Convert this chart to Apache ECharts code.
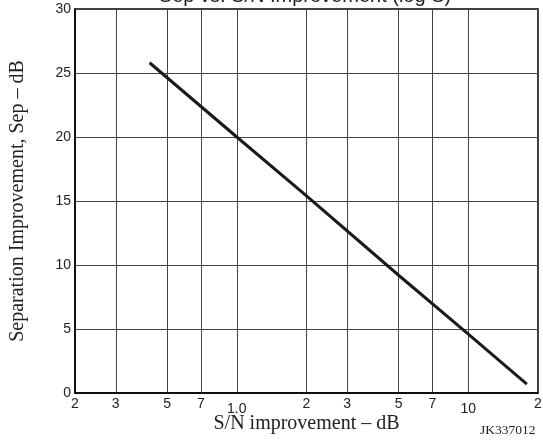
<!DOCTYPE html>
<html>
<head>
<meta charset="utf-8">
<script src="https://cdn.jsdelivr.net/npm/echarts@6/dist/echarts.min.js"></script>
<style>html,body{margin:0;padding:0;background:#fff;}#c{width:543px;height:440px;}</style>
</head>
<body>
<div id="c"></div>
<script>
var titleText = 'Sep vs. S/N Improvement (log S)';
var xTickValues = [0.2, 0.3, 0.5, 0.7, 1, 2, 3, 5, 7, 10, 20];
var xTickLabels = ['2', '3', '5', '7', '1.0', '2', '3', '5', '7', '10', '2'];
var yTicks = [0, 5, 10, 15, 20, 25, 30];
var snImprovement = [0.42, 1.0, 2.0, 5.0, 10.0, 17.9];
var sepImprovement = [25.8, 20.0, 15.4, 9.2, 4.6, 0.7];

var chart = echarts.init(document.getElementById('c'));
var lineData = snImprovement.map(function (v, i) { return [v, sepImprovement[i]]; });
var labelMap = {};
xTickValues.forEach(function (v, i) { labelMap[v] = xTickLabels[i]; });

chart.setOption({
  animation: false,
  title: {
    text: titleText, left: 300, textAlign: 'center', top: -19,
    textStyle: { fontFamily: 'Liberation Sans, Arial', fontSize: 20, fontWeight: 'normal', color: '#222' }
  },
  grid: { left: 75, right: 5, top: 9, bottom: 47, show: true, borderColor: '#000', borderWidth: 1.5, outerBoundsMode: 'none', containLabel: false },
  graphic: [
    { type: 'text', x: 480, y: 423, style: { text: 'JK337012', fontFamily: 'Liberation Serif, Times New Roman', fontSize: 13.5, fill: '#222' } }
  ],
  xAxis: {
    type: 'log', logBase: 10, min: 0.2, max: 20,
    name: 'S/N improvement – dB', nameLocation: 'middle', nameGap: 21, nameMoveOverlap: false,
    nameTextStyle: { fontFamily: 'Liberation Serif, Times New Roman', fontSize: 20, color: '#222', verticalAlign: 'top', padding: [0, 0, 0, 0] },
    axisLine: { show: true, lineStyle: { color: '#000', width: 1.5 } },
    axisTick: { show: false, customValues: xTickValues },
    axisLabel: {
      customValues: xTickValues, margin: 4, color: '#222', fontFamily: 'Liberation Sans, Arial', fontSize: 14,
      formatter: function (v) {
        var key = Math.round(v * 1000) / 1000;
        var t = labelMap[key] !== undefined ? labelMap[key] : '';
        if (t === '1.0' || t === '10') return '{lo|' + t + '}';
        return t;
      },
      rich: { lo: { fontFamily: 'Liberation Sans, Arial', fontSize: 14, color: '#222', padding: [5, 0, 0, 0] } }
    },
    splitLine: { show: true, lineStyle: { color: '#444', width: 1 } }
  },
  yAxis: {
    type: 'value', min: 0, max: 30, interval: 5,
    name: 'Separation Improvement, Sep – dB', nameLocation: 'middle', nameGap: 47, nameRotate: 90,
    nameTextStyle: { fontFamily: 'Liberation Serif, Times New Roman', fontSize: 20, color: '#222' },
    axisLine: { show: true, lineStyle: { color: '#000', width: 1.5 } },
    axisTick: { show: false },
    axisLabel: { margin: 4, color: '#222', fontFamily: 'Liberation Sans, Arial', fontSize: 14 },
    splitLine: { show: true, lineStyle: { color: '#444', width: 1 } }
  },
  series: [{
    type: 'line', data: lineData, showSymbol: false, symbol: 'none',
    lineStyle: { color: '#1a1a1a', width: 3 }
  }]
});
</script>
</body>
</html>
